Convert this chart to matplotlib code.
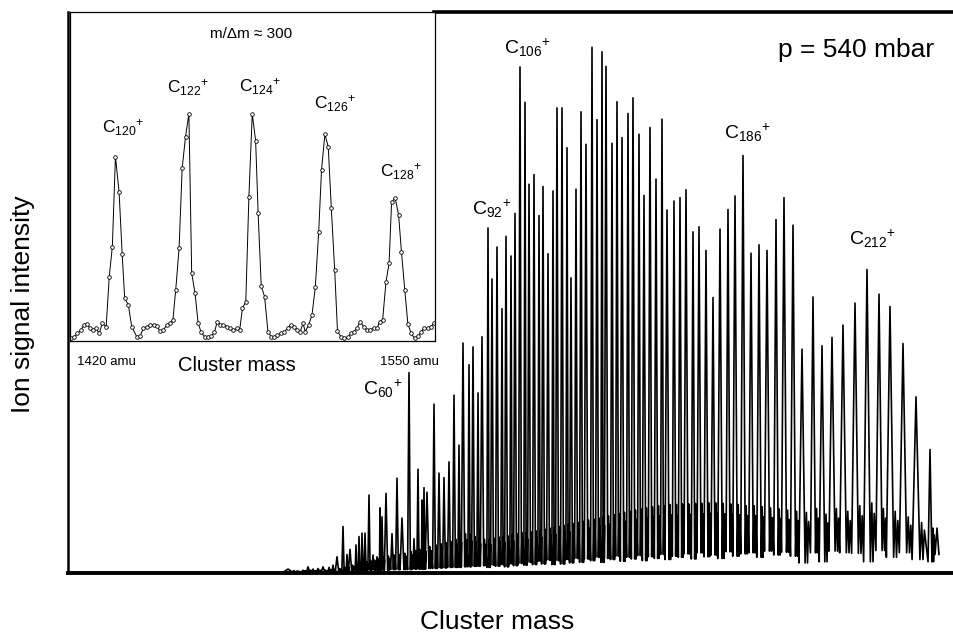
import numpy as np
import matplotlib
matplotlib.use("Agg")
import matplotlib.pyplot as plt

plt.rcParams['font.family'] = ['Liberation Sans', 'DejaVu Sans']
plt.rcParams['mathtext.fontset'] = 'custom'
plt.rcParams['mathtext.rm'] = 'Liberation Sans'
plt.rcParams['mathtext.it'] = 'Liberation Sans:italic'
plt.rcParams['mathtext.bf'] = 'Liberation Sans:bold'

# main spectrum: peak positions (arb. flight-time units) and heights (% of full scale)
peak_pos = [22.0, 23.5, 24.0, 24.5, 25.0, 25.5, 26.1, 26.5, 26.9, 27.5,
            27.9, 28.2, 28.8, 29.1, 29.4, 29.7, 30.1, 30.5, 30.9, 31.2,
            31.4, 31.8, 32.4, 32.9, 33.4, 34.1, 34.6, 35.0, 35.4, 35.6,
            35.9, 36.6, 37.1, 37.6, 38.1, 38.6, 39.1, 39.5, 40.1, 40.5,
            41.0, 41.4, 42.0, 42.4, 42.9, 43.4, 43.8, 44.3, 44.7, 45.2,
            45.7, 46.1, 46.6, 47.1, 47.5, 48.0, 48.5, 48.9, 49.4, 49.9,
            50.3, 50.8, 51.3, 51.8, 52.4, 52.9, 53.4, 53.8, 54.4, 54.9,
            55.4, 56.0, 56.5, 57.1, 57.6, 58.2, 58.8, 59.4, 59.9, 60.6,
            61.2, 61.8, 62.5, 63.1, 63.8, 64.5, 65.2, 66.0, 66.7, 67.5,
            68.3, 69.1, 69.9, 70.8, 71.6, 72.5, 73.4, 74.5, 75.4, 76.4,
            77.5, 78.7, 79.9, 81.1, 82.2, 83.5, 84.8, 86.2, 86.9]
peak_height = [0.7, 0.5, 1.1, 0.7, 0.8, 1.1, 1.0, 1.4, 2.9, 8.3,
               3.3, 4.2, 5.0, 6.5, 7.1, 7.1, 13.9, 3.2, 2.9, 11.6,
               10.0, 14.2, 7.0, 16.9, 9.8, 35.7, 6.1, 18.5, 13.0, 15.2,
               14.4, 30.1, 17.8, 17.0, 19.8, 31.7, 22.8, 41.0, 37.1, 40.3,
               32.1, 42.1, 61.5, 52.4, 58.1, 47.1, 60.0, 56.5, 64.1, 90.2,
               83.9, 69.3, 71.0, 63.7, 68.9, 56.9, 68.1, 82.9, 82.9, 75.8,
               52.6, 68.4, 82.2, 76.4, 93.7, 80.8, 92.9, 90.3, 76.6, 84.0,
               77.6, 81.9, 84.7, 78.2, 67.3, 79.4, 70.2, 80.9, 64.7, 66.3,
               66.9, 68.3, 60.8, 61.7, 57.5, 49.1, 61.3, 64.8, 67.2, 74.4,
               57.0, 58.5, 57.5, 63.0, 66.9, 62.0, 39.9, 49.2, 40.5, 42.0,
               44.2, 48.1, 54.1, 49.7, 47.5, 40.9, 31.4, 22.0, 8.0]
# signal level in the valley next to each peak
valley = [0.2, 0.2, 0.2, 0.2, 0.2, 0.2, 0.2, 0.2, 0.3, 0.3,
          0.3, 0.3, 0.4, 0.4, 0.4, 0.4, 0.5, 0.5, 0.5, 0.5,
          0.5, 0.5, 0.6, 0.6, 0.6, 0.6, 0.7, 0.7, 0.7, 0.7,
          0.8, 0.8, 0.9, 0.9, 1.0, 1.0, 1.0, 1.1, 1.1, 1.2,
          1.2, 1.3, 1.0, 1.4, 1.2, 1.5, 1.1, 1.6, 1.3, 1.7,
          1.4, 1.9, 1.5, 2.1, 1.6, 2.3, 1.5, 2.2, 1.6, 2.4,
          1.8, 2.6, 1.9, 2.5, 2.2, 2.8, 1.9, 2.6, 2.4, 3.0,
          2.1, 2.8, 2.5, 3.1, 2.2, 2.9, 2.6, 3.3, 2.4, 3.0,
          2.8, 3.4, 2.5, 3.6, 2.9, 3.2, 2.6, 3.8, 3.0, 3.4,
          3.6, 2.8, 3.9, 3.2, 3.7, 3.0, 1.8, 3.6, 2.0, 3.9,
          3.6, 3.5, 2.0, 4.0, 2.8, 3.6, 2.4, 2.0, 3.3]
# top of the small-cluster "grass" between the main peaks
bump = [0.4, 0.4, 0.5, 0.4, 0.5, 0.5, 0.6, 0.6, 0.8, 1.0,
        1.2, 1.4, 1.6, 1.8, 1.9, 2.0, 2.2, 2.3, 2.5, 2.7,
        2.8, 3.0, 3.2, 3.3, 3.5, 3.8, 4.0, 4.2, 4.4, 4.5,
        4.7, 5.0, 5.2, 5.4, 5.6, 6.0, 6.5, 7.0, 6.8, 6.5,
        6.2, 6.0, 6.0, 6.2, 6.4, 6.5, 6.6, 6.8, 7.0, 7.2,
        7.2, 7.3, 7.5, 7.6, 7.8, 8.0, 8.2, 8.3, 8.5, 8.7,
        8.8, 9.0, 9.2, 9.4, 9.6, 9.8, 10.0, 10.2, 10.4, 10.6,
        10.8, 11.0, 11.2, 11.4, 11.6, 11.8, 12.0, 12.0, 12.2, 12.2,
        12.3, 12.3, 12.4, 12.4, 12.5, 12.5, 12.4, 12.3, 12.2, 12.0,
        12.0, 11.8, 11.6, 11.4, 11.2, 11.0, 10.8, 11.5, 10.5, 11.5,
        11.0, 12.0, 12.5, 11.5, 11.0, 10.0, 9.0, 8.0, 4.0]

labels_main = ['C$_{60}$$^{+}$', 'C$_{92}$$^{+}$', 'C$_{106}$$^{+}$',
               'C$_{186}$$^{+}$', 'C$_{212}$$^{+}$']
label_x = [29.5, 40.4, 43.6, 65.6, 78.1]
label_y = [31.7, 63.8, 92.6, 77.5, 58.5]

# inset: C120+ ... C128+ at m/dm ~ 300
inset_mass = [1420.4, 1421.4, 1422.6, 1423.8, 1425.0, 1426.0, 1427.1, 1428.3, 1429.3, 1430.4,
              1431.5, 1432.9, 1434.0, 1435.1, 1436.2, 1437.5, 1438.6, 1439.5, 1440.8, 1442.0,
              1443.8, 1445.0, 1446.2, 1447.4, 1448.6, 1449.8, 1450.9, 1452.1, 1453.3, 1454.5,
              1455.7, 1456.7, 1457.7, 1458.9, 1460.0, 1461.2, 1462.4, 1463.4, 1464.6, 1465.7,
              1466.8, 1468.0, 1469.1, 1470.3, 1471.5, 1472.5, 1473.6, 1474.7, 1475.9, 1477.1,
              1478.3, 1479.5, 1480.5, 1481.5, 1482.7, 1483.8, 1485.0, 1486.2, 1487.1, 1488.2,
              1489.4, 1490.6, 1491.8, 1492.8, 1494.0, 1495.2, 1496.4, 1497.6, 1498.8, 1500.0,
              1500.9, 1502.1, 1503.1, 1503.9, 1505.1, 1506.3, 1507.5, 1508.7, 1509.7, 1510.9,
              1512.1, 1513.2, 1514.4, 1515.4, 1516.6, 1517.8, 1519.0, 1520.2, 1521.2, 1522.3,
              1523.5, 1524.7, 1525.9, 1527.1, 1528.3, 1529.5, 1530.4, 1531.5, 1532.7, 1533.8,
              1534.7, 1536.0, 1537.2, 1538.2, 1539.4, 1540.5, 1541.7, 1542.9, 1544.1, 1545.3,
              1546.3, 1547.6, 1548.8, 1549.7]
inset_signal = [0.7, 1.0, 2.2, 3.2, 4.8, 5.1, 3.8, 3.4, 3.8, 2.2,
                5.3, 4.3, 19.5, 28.6, 56.0, 45.3, 26.4, 12.9, 10.9, 4.3,
                1.2, 1.4, 3.8, 4.3, 4.8, 4.8, 4.5, 2.9, 3.2, 4.8,
                5.3, 6.3, 15.4, 28.1, 52.4, 62.1, 69.0, 20.5, 14.4, 5.3,
                2.5, 1.2, 1.0, 1.4, 2.5, 5.8, 4.8, 4.8, 4.3, 3.8,
                3.2, 3.8, 3.2, 9.8, 11.9, 43.8, 69.0, 60.9, 38.7, 16.6,
                13.4, 2.7, 1.2, 1.0, 1.7, 2.2, 2.7, 3.8, 4.8, 4.3,
                3.2, 2.7, 5.3, 2.7, 4.8, 7.8, 16.4, 33.2, 51.9, 62.8,
                59.0, 40.3, 21.5, 2.9, 1.2, 0.7, 1.0, 2.2, 2.7, 3.8,
                5.8, 4.3, 3.2, 3.4, 3.8, 3.8, 5.8, 6.3, 18.0, 23.5,
                42.3, 43.3, 38.2, 27.1, 15.4, 5.1, 2.2, 0.7, 1.4, 2.7,
                3.8, 3.8, 4.3, 5.3]
labels_inset = ['C$_{120}$$^{+}$', 'C$_{122}$$^{+}$', 'C$_{124}$$^{+}$',
                'C$_{126}$$^{+}$', 'C$_{128}$$^{+}$']
inset_label_x = [1431.3, 1454.5, 1480.1, 1506.9, 1530.4]
inset_label_y = [63.3, 75.5, 75.8, 70.7, 49.9]

# build the detector trace: valley - peak - valley - grass - next peak
pos = np.array(peak_pos)
gaps = np.append(np.diff(pos), pos[-1] - pos[-2])
hw = 0.28 * gaps
xs, ys = [], []
for i in range(len(pos)):
    xs += [pos[i] - hw[i], pos[i], pos[i] + hw[i]]
    ys += [valley[i], peak_height[i], valley[i]]
    if i < len(pos) - 1:
        # two small grass spikes in each gap
        xs += [pos[i] + gaps[i] * 0.40, pos[i] + gaps[i] * 0.50, pos[i] + gaps[i] * 0.60]
        ys += [bump[i], valley[i], bump[i] * 0.85]

fig = plt.figure(figsize=(9.54, 6.33), dpi=100)
ax = fig.add_axes([0.07128, 0.09479, 0.92872, 0.88626])
ax.plot(xs, ys, color='black', lw=1.2)
ax.set_xlim(0, 88.6)
ax.set_ylim(0, 100)
ax.set_xticks([])
ax.set_yticks([])
ax.spines['right'].set_visible(False)
ax.spines['left'].set_linewidth(1.8)
ax.spines['bottom'].set_linewidth(2.8)
ax.spines['top'].set_linewidth(2.6)
ax.spines['top'].set_bounds(36.6, 88.6)

for t, x, y in zip(labels_main, label_x, label_y):
    ax.text(x, y, t, fontsize=14, va='baseline', ha='left')
ax.text(71.0, 91.9, 'p = 540 mbar', fontsize=19, va='baseline', ha='left')

# inset
ins = fig.add_axes([0.07338, 0.46177, 0.38208, 0.51927])
ins.plot(inset_mass, inset_signal, color='black', lw=0.7, marker='o',
         markersize=2.6, markerfacecolor='white', markeredgecolor='black',
         markeredgewidth=0.6)
ins.set_xlim(1420, 1550)
ins.set_ylim(0, 100)
ins.set_xticks([])
ins.set_yticks([])
for s in ins.spines.values():
    s.set_linewidth(0.9)
for t, x, y in zip(labels_inset, inset_label_x, inset_label_y):
    ins.text(x, y, t, fontsize=12.5, va='baseline', ha='left')
ins.text(1484.5, 92, 'm/\u0394m \u2248 300', fontsize=11, va='baseline', ha='center')

fig.text(0.0807, 0.4234, '1420 amu', fontsize=9.5, va='baseline', ha='left')
fig.text(0.398, 0.4234, '1550 amu', fontsize=9.5, va='baseline', ha='left')
fig.text(0.1866, 0.4139, 'Cluster mass', fontsize=14.5, va='baseline', ha='left')

fig.text(0.024, 0.52, 'Ion signal intensity', fontsize=19, rotation=90,
         va='center', ha='center')
fig.text(0.521, 0.0174, 'Cluster mass', fontsize=19, va='center', ha='center')

fig.savefig('out.png', dpi=100)
